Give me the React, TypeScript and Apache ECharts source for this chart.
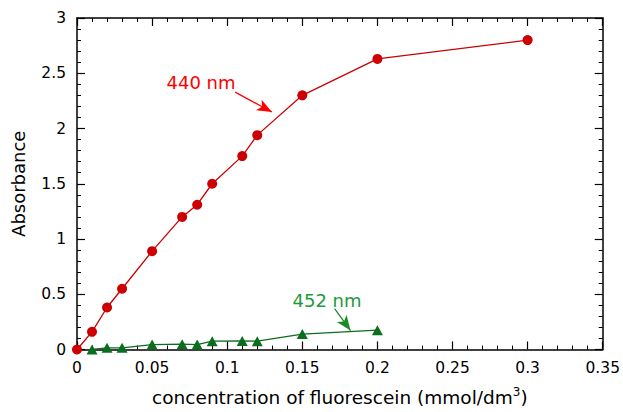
import React, { useEffect, useRef } from "react";
import * as echarts from "echarts";

const conc440 = [0, 0.01, 0.02, 0.03, 0.05, 0.07, 0.08, 0.09, 0.11, 0.12, 0.15, 0.2, 0.3];
const abs440 = [0, 0.16, 0.38, 0.55, 0.89, 1.2, 1.31, 1.5, 1.75, 1.94, 2.3, 2.63, 2.8];
const conc452 = [0.01, 0.02, 0.03, 0.05, 0.07, 0.08, 0.09, 0.11, 0.12, 0.15, 0.2];
const abs452 = [0.0, 0.015, 0.015, 0.045, 0.048, 0.045, 0.075, 0.078, 0.075, 0.14, 0.175];

const label440 = "440 nm";
const label452 = "452 nm";
const arrow440 = [[0.1053, 2.329], [0.1298, 2.149]];
const arrow452 = [[0.1715, 0.369], [0.1821, 0.171]];

const FONT = "'DejaVu Sans', Helvetica, Arial, sans-serif";

export default function App() {
  const ref = useRef<HTMLDivElement>(null);
  useEffect(() => {
    if (!ref.current) return;
    const chart = echarts.init(ref.current, null, { renderer: "svg" });
    const axisLine = { show: true, onZero: false, lineStyle: { color: "#000", width: 1.5 } };
    const tick = { show: true, inside: true, length: 8, lineStyle: { color: "#000", width: 1.2 } };
    const minor = { show: true, splitNumber: 5, length: 4, lineStyle: { color: "#000", width: 1 } };
    const xCommon = { type: "value", min: 0, max: 0.35, interval: 0.05 };
    const yCommon = { type: "value", min: 0, max: 3, interval: 0.5 };
    chart.setOption({
      animation: false,
      textStyle: { fontFamily: FONT },
      grid: { left: 77, right: 17, top: 18, bottom: 60 },
      xAxis: [
        {
          ...xCommon,
          position: "bottom",
          axisLine,
          axisTick: tick,
          minorTick: minor,
          splitLine: { show: false },
          axisLabel: { color: "#000", fontSize: 15.5, margin: 10, fontFamily: FONT, formatter: (v: number) => String(+v.toFixed(2)) },
          name: "concentration of fluorescein (mmol/dm{sup|3})",
          nameLocation: "middle",
          nameGap: 36,
          nameTextStyle: {
            color: "#000",
            fontSize: 18.5,
            fontFamily: FONT,
            rich: { sup: { fontSize: 12, verticalAlign: "top", padding: [0, 0, 12, 0], fontFamily: FONT, color: "#000" } },
          },
        },
        {
          ...xCommon,
          position: "top",
          axisLine,
          axisTick: tick,
          minorTick: minor,
          splitLine: { show: false },
          axisLabel: { show: false },
        },
      ],
      yAxis: [
        {
          ...yCommon,
          position: "left",
          axisLine,
          axisTick: tick,
          minorTick: minor,
          splitLine: { show: false },
          axisLabel: { color: "#000", fontSize: 15.5, margin: 11, fontFamily: FONT },
          name: "Absorbance",
          nameLocation: "middle",
          nameGap: 50,
          nameTextStyle: { color: "#000", fontSize: 18, fontFamily: FONT },
        },
        {
          ...yCommon,
          position: "right",
          axisLine,
          axisTick: tick,
          minorTick: minor,
          splitLine: { show: false },
          axisLabel: { show: false },
        },
      ],
      series: [
        {
          type: "line",
          name: "452 nm",
          data: conc452.map((x, i) => [x, abs452[i]]),
          symbol: "triangle",
          symbolSize: [11, 10],
          itemStyle: { color: "#0b6e1e" },
          lineStyle: { color: "#0b6e1e", width: 1.3 },
          markLine: {
            silent: true,
            symbol: ["none", "arrow"],
            symbolSize: [9, 15],
            label: { show: false },
            lineStyle: { color: "#1a8a2c", width: 1.3, type: "solid" },
            data: [[{ coord: arrow452[0] }, { coord: arrow452[1] }]],
          },
        },
        {
          type: "line",
          name: "440 nm",
          data: conc440.map((x, i) => [x, abs440[i]]),
          symbol: "circle",
          symbolSize: 10,
          itemStyle: { color: "#cc0000" },
          lineStyle: { color: "#cc0000", width: 1.3 },
          markLine: {
            silent: true,
            symbol: ["none", "arrow"],
            symbolSize: [9, 15],
            label: { show: false },
            lineStyle: { color: "#ff0000", width: 1.3, type: "solid" },
            data: [[{ coord: arrow440[0] }, { coord: arrow440[1] }]],
          },
        },
      ],
      graphic: [
        {
          type: "text",
          x: 201,
          y: 82,
          style: { text: label440, fill: "#ff0000", fontSize: 18, fontFamily: FONT, align: "center", verticalAlign: "middle" },
        },
        {
          type: "text",
          x: 327,
          y: 300,
          style: { text: label452, fill: "#1f9a3a", fontSize: 18, fontFamily: FONT, align: "center", verticalAlign: "middle" },
        },
      ],
    });
    return () => chart.dispose();
  }, []);
  return <div ref={ref} style={{ width: 623, height: 412, position: "absolute", left: 0, top: 0 }} />;
}
